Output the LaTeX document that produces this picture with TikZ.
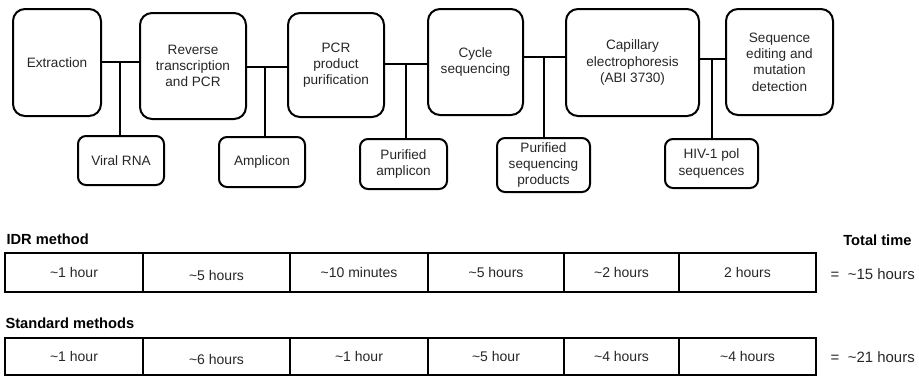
\documentclass[tikz,border=0pt]{standalone}
\usepackage{fontspec}
\setmainfont{Liberation Sans}
\newcommand{\apx}{\textasciitilde}
\newcommand{\stepfont}{\fontsize{10.2}{12.2}\selectfont}
\newcommand{\cellfont}{\fontsize{10.5}{12.5}\selectfont}
\newcommand{\totfont}{\fontsize{11.2}{13}\selectfont}
\newcommand{\headfont}{\fontsize{11}{13}\selectfont\bfseries}
\tikzset{every picture/.style={line width=0.75pt}}
\tikzset{
  stepbox/.style={draw, line width=1.5pt, rounded corners=9pt, align=center, inner sep=0.75pt, text=black!85, font=\stepfont},
  outbox/.style={draw, line width=1.5pt, rounded corners=6pt, align=center, inner sep=0.75pt, text=black!85, font=\stepfont},
  idrcell/.style={draw, line width=1.5pt, minimum height=29.25pt, inner sep=0pt, outer sep=0pt, text=black!85, font=\cellfont},
  stdcell/.style={idrcell, minimum height=27.75pt},
  lowtext/.style={text height=12.8pt},
  link/.style={line width=1.5pt},
}

\begin{document}
\begin{tikzpicture}[x=0.75pt,y=0.75pt,yscale=-1,xscale=1]
    \useasboundingbox (0,0) rectangle (919,376); %set diagram size 919 x 376

    %Shape: Process steps
    \node [stepbox, minimum width=66pt, minimum height=80.25pt] (ext) at (57,62.5) {Extraction};
    \node [stepbox, minimum width=79.5pt, minimum height=79.5pt] (rt) at (193,66) {Reverse\\transcription\\and PCR};
    \node [stepbox, minimum width=72pt, minimum height=78pt] (pcrp) at (336,65) {PCR\\product\\purification};
    \node [stepbox, minimum width=71.25pt, minimum height=79.5pt] (cyc) at (475.5,62) {Cycle\\sequencing};
    \node [stepbox, minimum width=99.75pt, minimum height=80.25pt] (cap) at (632.5,62.5) {Capillary\\electrophoresis\\(ABI 3730)};
    \node [stepbox, minimum width=80.25pt, minimum height=79.5pt] (sed) at (779.5,62) {Sequence\\editing and\\mutation\\detection};

    %Shape: Products
    \node [outbox, minimum width=64.5pt, minimum height=36.75pt] (rna) at (121,160.5) {Viral RNA};
    \node [outbox, minimum width=64.5pt, minimum height=37.5pt] (amp) at (262,162) {Amplicon};
    \node [outbox, minimum width=65.25pt, minimum height=37.5pt] (pamp) at (403.5,164) {Purified\\amplicon};
    \node [outbox, minimum width=69.75pt, minimum height=40.5pt] (psp) at (543.5,165) {Purified\\sequencing\\products};
    \node [outbox, minimum width=69.75pt, minimum height=36.75pt] (hiv) at (711.5,163.5) {HIV-1 pol\\sequences};

    %Straight Lines: links between steps
    \coordinate (l1) at ([yshift=-0.4pt]ext.east);
    \coordinate (l2) at ([yshift=0.75pt]rt.east);
    \coordinate (l3) at ([yshift=-0.75pt]pcrp.east);
    \coordinate (l4) at ([yshift=-3.5pt]cyc.east);
    \coordinate (l5) at ([yshift=-2.6pt]cap.east);
    \draw [link] (l1) -- (l1 -| rt.west);
    \draw [link] (l2) -- (l2 -| pcrp.west);
    \draw [link] (l3) -- (l3 -| cyc.west);
    \draw [link] (l4) -- (l4 -| cap.west);
    \draw [link] (l5) -- (l5 -| sed.west);
    %Straight Lines: drops to products
    \draw [link] ([xshift=-0.75pt]rna.north) -- ([xshift=-0.75pt]rna.north |- l1);
    \draw [link] ([xshift=2.25pt]amp.north) -- ([xshift=2.25pt]amp.north |- l2);
    \draw [link] ([xshift=1.9pt]pamp.north) -- ([xshift=1.9pt]pamp.north |- l3);
    \draw [link] (psp.north) -- (psp.north |- l4);
    \draw [link] (hiv.north) -- (hiv.north |- l5);

    % Text Node
    \node [anchor=base west, inner sep=0pt, font=\headfont] (idrlbl) at (6,244) {IDR method};
    % Text Node
    \node [anchor=base west, inner sep=0pt, font=\headfont] (stdlbl) at (5,328) {Standard methods};
    % Text Node
    \node [anchor=base east, inner sep=0pt, font=\headfont] (totlbl) at (912,245) {Total time};

    %Shape: IDR method times
    \node [idrcell, minimum width=103.5pt] (i1) at (74,272.5) {\apx1 hour};
    \node [idrcell, lowtext, minimum width=110.25pt] (i2) at (216.5,272.5) {\apx5 hours};
    \node [idrcell, minimum width=103.5pt] (i3) at (359,272.5) {\apx10 minutes};
    \node [idrcell, minimum width=102pt] (i4) at (496,272.5) {\apx5 hours};
    \node [idrcell, minimum width=86.25pt] (i5) at (621.5,272.5) {\apx2 hours};
    \node [idrcell, minimum width=102.75pt] (i6) at (747.5,272.5) {2 hours};

    %Shape: Standard methods times
    \node [stdcell, minimum width=103.5pt] (s1) at (74,356.5) {\apx1 hour};
    \node [stdcell, lowtext, minimum width=110.25pt] (s2) at (216.5,356.5) {\apx6 hours};
    \node [stdcell, minimum width=103.5pt] (s3) at (359,356.5) {\apx1 hour};
    \node [stdcell, minimum width=102pt] (s4) at (496,356.5) {\apx5 hour};
    \node [stdcell, minimum width=86.25pt] (s5) at (621.5,356.5) {\apx4 hours};
    \node [stdcell, minimum width=102.75pt] (s6) at (747.5,356.5) {\apx4 hours};

    % Text Node
    \node [anchor=west, inner sep=0pt, text=black!85, font=\totfont] (idrtot) at (830,274) {=\hspace{6.5pt}\apx15 hours};
    % Text Node
    \node [anchor=west, inner sep=0pt, text=black!85, font=\totfont] (stdtot) at (830,357) {=\hspace{6.5pt}\apx21 hours};

\end{tikzpicture}
\end{document}
